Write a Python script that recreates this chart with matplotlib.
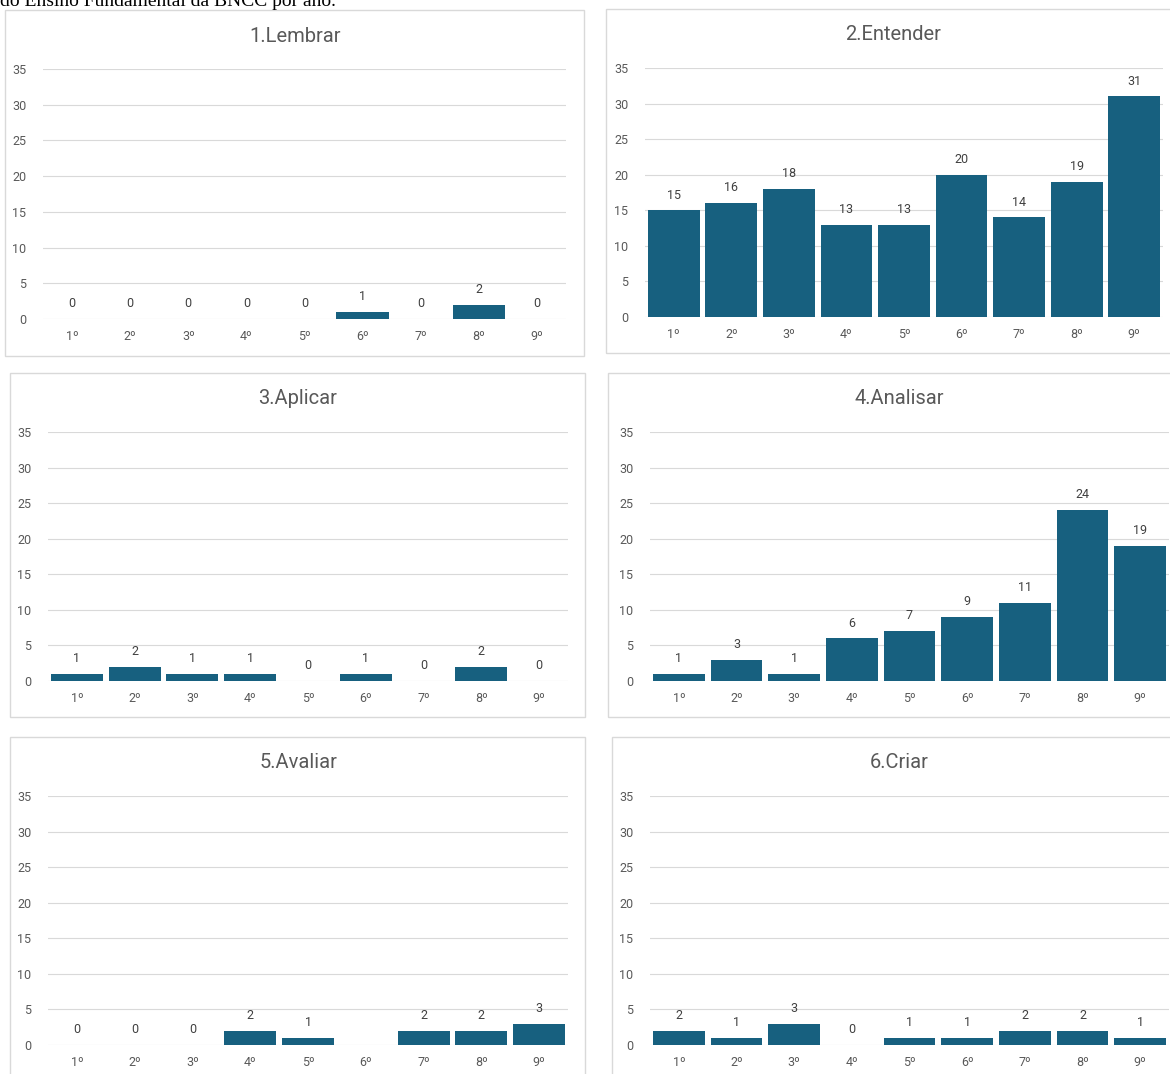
import numpy as np
import matplotlib
matplotlib.use('Agg')
import matplotlib.pyplot as plt
from matplotlib.patches import Rectangle

# data
anos = ['1º', '2º', '3º', '4º', '5º', '6º', '7º', '8º', '9º']
titulos = ['1.Lembrar', '2.Entender', '3.Aplicar', '4.Analisar', '5.Avaliar', '6.Criar']
lembrar = [0, 0, 0, 0, 0, 1, 0, 2, 0]
entender = [15, 16, 18, 13, 13, 20, 14, 19, 31]
aplicar = [1, 2, 1, 1, 0, 1, 0, 2, 0]
analisar = [1, 3, 1, 6, 7, 9, 11, 24, 19]
avaliar = [0, 0, 0, 2, 1, None, 2, 2, 3]
criar = [2, 1, 3, 0, 1, 1, 2, 2, 1]
yticks = [0, 5, 10, 15, 20, 25, 30, 35]

series = [lembrar, entender, aplicar, analisar, avaliar, criar]

W, H = 1170, 1074
BAR = '#17607f'
GRID = '#d9d9d9'
TXT = '#595959'
FONT = ['Roboto', 'DejaVu Sans']

# pixel layout: (left, right, y0, y35) of plot area; panel border (x0, y0, x1, y1); title centre
axes_px = [(43, 566, 319, 69), (645, 1163, 317, 68),
           (48, 568, 681, 432), (650, 1169, 681, 432),
           (48, 568, 1045, 796), (650, 1169, 1045, 796)]
border_px = [(5, 10, 584, 356), (606, 9, 1180, 353),
             (10, 373, 585, 717), (608, 373, 1180, 717),
             (10, 737, 585, 1090), (612, 737, 1180, 1090)]
title_px = [(295, 36), (893, 35), (298, 399), (899, 399), (298, 763), (899, 763)]

fig = plt.figure(figsize=(W / 100, H / 100), dpi=100)

for (bx0, by0, bx1, by1) in border_px:
    fig.patches.append(Rectangle((bx0 / W, 1 - by1 / H), (bx1 - bx0) / W, (by1 - by0) / H,
                                 transform=fig.transFigure, fill=False,
                                 edgecolor=GRID, linewidth=1.0))

for i, vals in enumerate(series):
    l, r, y0, y35 = axes_px[i]
    ax = fig.add_axes([l / W, 1 - y0 / H, (r - l) / W, (y0 - y35) / H])
    x = np.arange(len(anos))
    heights = [v if v is not None else 0 for v in vals]
    ax.bar(x, heights, width=0.9, color=BAR, zorder=3)
    for xi, v in zip(x, vals):
        if v is None:
            continue
        ax.annotate(str(v), (xi, v), xytext=(0, 11), textcoords='offset points',
                    ha='center', va='center', fontsize=9, color='#404040', family=FONT)
    ax.set_xlim(-0.5, len(anos) - 0.5)
    ax.set_ylim(0, 35)
    ax.set_yticks(yticks)
    ax.set_xticks(x)
    ax.set_xticklabels(anos)
    ax.grid(axis='y', color=GRID, linewidth=0.8, zorder=0)
    for s in ['top', 'right', 'left', 'bottom']:
        ax.spines[s].set_visible(False)
    ax.tick_params(length=0, labelsize=9, colors=TXT)
    ax.tick_params(axis='x', pad=8)
    ax.tick_params(axis='y', pad=12)
    for lab in ax.get_xticklabels() + ax.get_yticklabels():
        lab.set_family(FONT)
    tx, ty = title_px[i]
    fig.text(tx / W, 1 - ty / H, titulos[i], ha='center', va='center',
             fontsize=14.5, color=TXT, family=FONT)

fig.text(0.0, 1 - 6 / H, 'do Ensino Fundamental da BNCC por ano.', ha='left', va='baseline',
         fontsize=14, color='black', family=['Liberation Serif', 'DejaVu Serif'])

fig.savefig('out.png', dpi=100, facecolor='white')
